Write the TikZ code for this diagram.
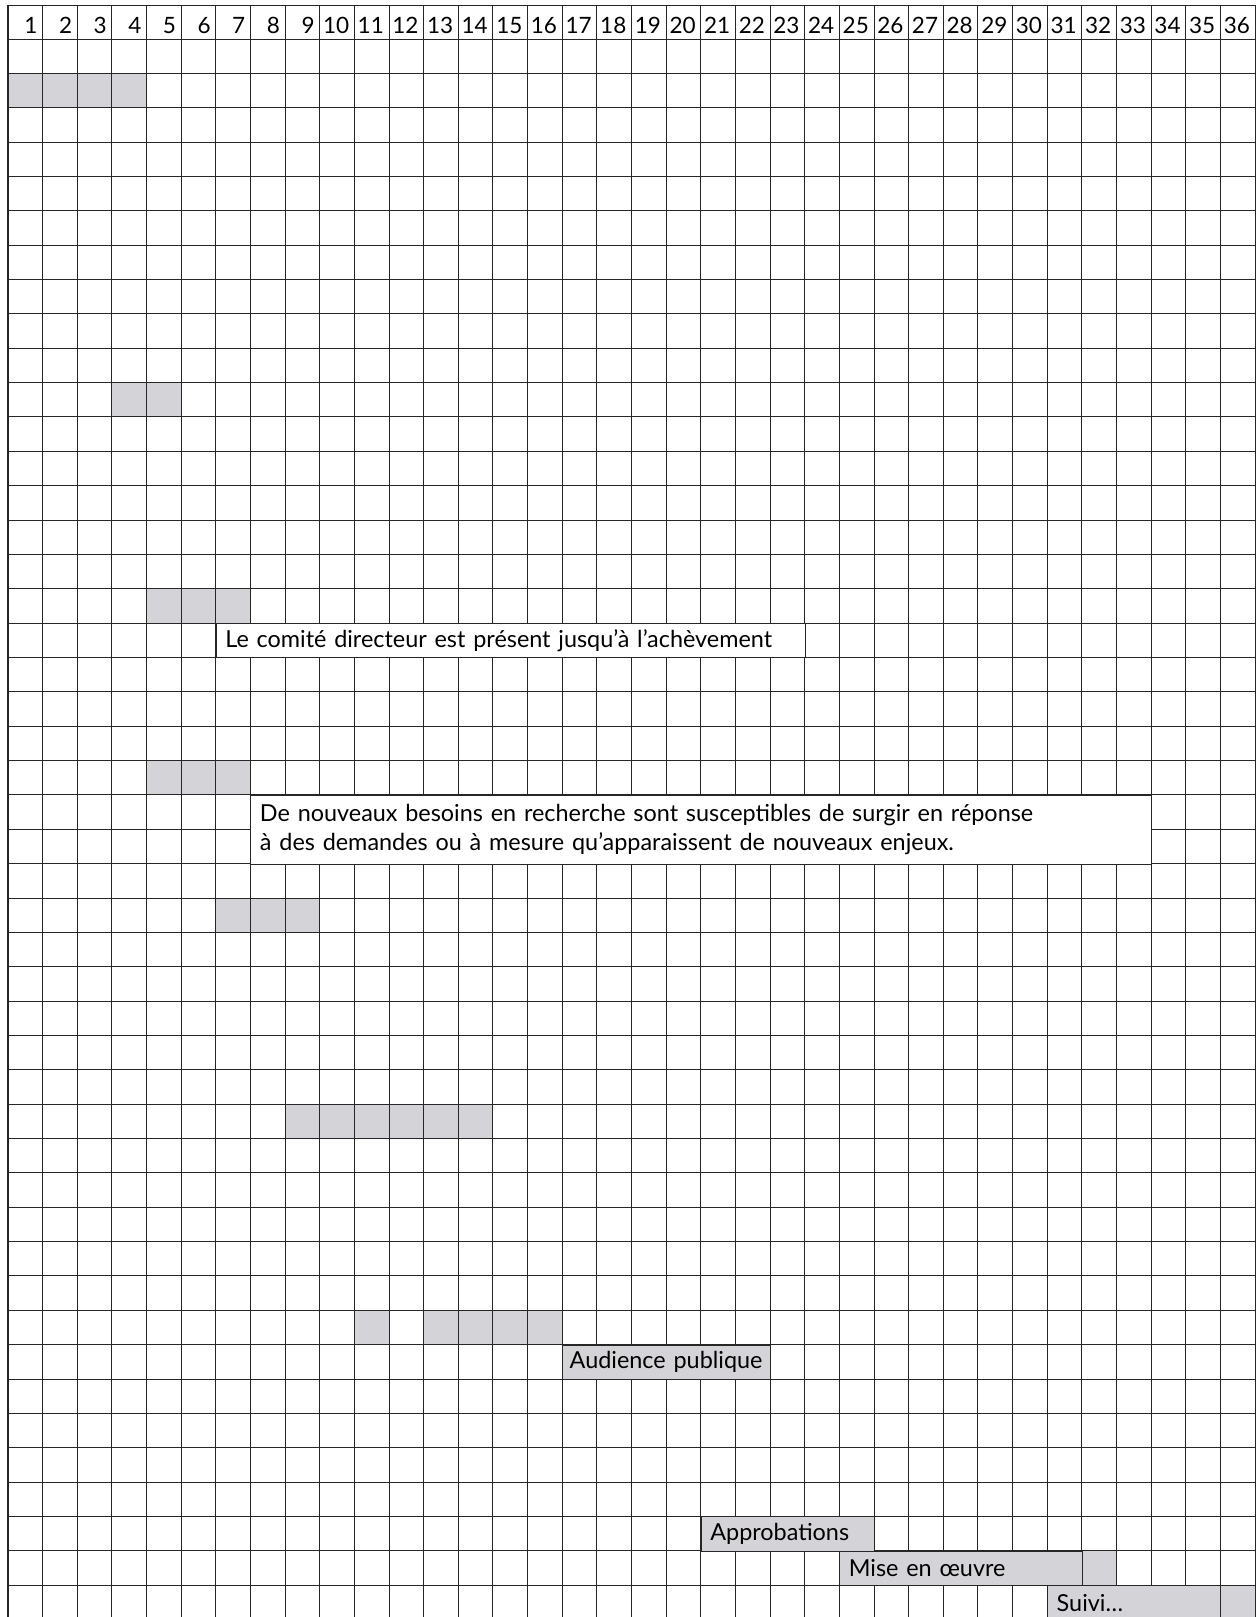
\documentclass[tikz,border=0pt]{standalone}
\usepackage{fontspec}
\setmainfont{Lato}
\definecolor{cellgray}{RGB}{212,211,216}
\newcommand{\grayrun}[3]{\fill[cellgray] ({cx(#1-1)},{ly(#3)}) rectangle ({cx(#2)},{ly(#3+1)});}
\begin{document}
\begin{tikzpicture}[x=1pt,y=-1pt,
  declare function={cx(\c)=8+\c*34.64; ly(\k)=ifthenelse(\k==0,5,39+(\k-1)*34.36);},
  gridline/.style={line width=1pt,black!85},
  headnum/.style={anchor=base east,inner sep=0pt,font=\fontsize{22.5}{26}\selectfont},
  labelbox/.style={anchor=north west,draw=black!85,line width=1pt,inner xsep=9pt,inner ysep=0pt,
     minimum height=34.36pt,align=left,font=\fontsize{23.4}{29}\selectfont},
  whitebox/.style={labelbox,fill=white},
  graybox/.style={labelbox,fill=cellgray}]
\fill[white] (0,0) rectangle (1259,1617);
\useasboundingbox (0,0) rectangle (1259,1617);
% gray cells
\grayrun{1}{4}{2}
\grayrun{4}{5}{11}
\grayrun{5}{7}{17}
\grayrun{5}{7}{22}
\grayrun{7}{9}{26}
\grayrun{9}{14}{32}
\grayrun{11}{11}{38}
\grayrun{13}{16}{38}
\grayrun{32}{32}{45}
\grayrun{36}{36}{46}
% grid
\foreach \c in {0,...,36} \draw[gridline] ({cx(\c)},5) -- ({cx(\c)},1625);
\foreach \k in {0,...,46} \draw[gridline] ({cx(0)},{ly(\k)}) -- ({cx(36)},{ly(\k)});
\draw[line width=2pt,black!85] ({cx(0)},5) -- ({cx(0)},1625);
% header numbers
\foreach \c in {1,...,36} \node[headnum] (h\c) at ({cx(\c)-5},33) {\c};
% text boxes
\node[whitebox,text width={588.88pt-18pt},minimum width=588.88pt] (comite) at ({cx(6)},{ly(18)})
  {\mbox{Le comité directeur est présent jusqu’à l’achèvement}};
\node[whitebox,text width={900.64pt-18pt},minimum width=900.64pt,minimum height=68.72pt] (besoins) at ({cx(7)},{ly(23)})
  {De nouveaux besoins en recherche sont susceptibles de surgir en réponse\\à des demandes ou à mesure qu’apparaissent de nouveaux enjeux.};
\node[graybox,inner xsep=7pt,text width={207.84pt-14pt},minimum width=207.84pt] (audience) at ({cx(16)},{ly(39)}) {\mbox{Audience publique}};
\node[graybox,text width={173.2pt-18pt},minimum width=173.2pt] (approb) at ({cx(20)},{ly(44)}) {\mbox{Approbations}};
\node[graybox,text width={242.48pt-18pt},minimum width=242.48pt] (mise) at ({cx(24)},{ly(45)}) {\mbox{Mise en œuvre}};
\node[graybox,text width={173.2pt-18pt},minimum width=173.2pt] (suivi) at ({cx(30)},{ly(46)}) {\mbox{Suivi…}};
\end{tikzpicture}
\end{document}
